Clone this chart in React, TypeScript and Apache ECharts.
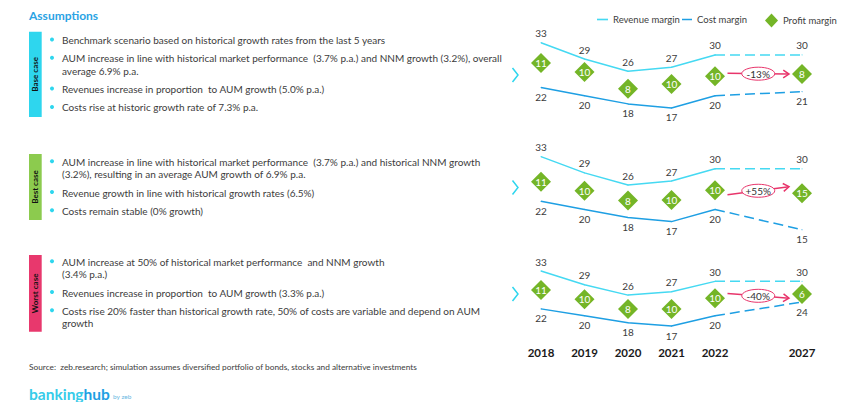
import React, { useEffect, useRef } from "react";
import * as echarts from "echarts";

const FONT = "Lato";

// ---------- data ----------
const xCategories = ["2018", "2019", "2020", "2021", "2022", "", "2027"];

const baseRevenue = [33, 29, 26, 27, 30, null, 30];
const baseCost = [22, 20, 18, 17, 20, null, 21];
const baseProfit = [11, 10, 8, 10, 10, null, 8];
const baseProfitPos = [28.0, 25.8, 21.7, 22.9, 24.8, null, 25.3];

const bestRevenue = [33, 29, 26, 27, 30, null, 30];
const bestCost = [22, 20, 18, 17, 20, null, 15];
const bestProfit = [11, 10, 8, 10, 10, null, 15];
const bestProfitPos = [26.8, 24.6, 22.2, 22.3, 24.7, null, 24.0];

const worstRevenue = [33, 29, 26, 27, 30, null, 30];
const worstCost = [22, 20, 18, 17, 20, null, 24];
const worstProfit = [11, 10, 8, 10, 10, null, 6];
const worstProfitPos = [27.5, 24.8, 22.0, 22.0, 25.1, null, 26.3];

const profitChange = ["-13%", "+55%", "-40%"];
const arrowLevels = [
  [25.5, 25.3],
  [23.6, 25.6],
  [26.5, 25.1],
];

const scenarioNames = ["Base case", "Best case", "Worst case"];

const baseAssumptions = [
  ["Benchmark scenario based on historical growth rates from the last 5 years"],
  [
    "AUM increase in line with historical market performance  (3.7% p.a.) and NNM growth (3.2%), overall",
    "average 6.9% p.a.",
  ],
  ["Revenues increase in proportion  to AUM growth (5.0% p.a.)"],
  ["Costs rise at historic growth rate of 7.3% p.a."],
];
const bestAssumptions = [
  [
    "AUM increase in line with historical market performance  (3.7% p.a.) and historical NNM growth",
    "(3.2%), resulting in an average AUM growth of 6.9% p.a.",
  ],
  ["Revenue growth in line with historical growth rates (6.5%)"],
  ["Costs remain stable (0% growth)"],
];
const worstAssumptions = [
  [
    "AUM increase at 50% of historical market performance  and NNM growth",
    "(3.4% p.a.)",
  ],
  ["Revenues increase in proportion  to AUM growth (3.3% p.a.)"],
  [
    "Costs rise 20% faster than historical growth rate, 50% of costs are variable and depend on AUM",
    "growth",
  ],
];

const sourceText =
  "Source:  zeb.research; simulation assumes diversified portfolio of bonds, stocks and alternative investments";

// ---------- styles ----------
const REV = "#45D9F2";
const COST = "#1E9FE3";
const PROFIT = "#74B527";
const PINK = "#E8356B";
const TEXT = "#3c3c3c";
const TAG_COLORS = ["#2ED6EE", "#8CCB4E", "#E8386D"];

const grids = [
  { left: 541, right: 60, top: 38.6, height: 81.6 },
  { left: 541, right: 60, top: 152.6, height: 81.2 },
  { left: 541, right: 60, top: 267.6, height: 68.8 },
];
const tagBoxes = [
  { y: 31.7, h: 85.3 },
  { y: 154, h: 66 },
  { y: 255, h: 76.7 },
];
const textStartY = [40, 161.7, 261.7];
const chevronY = [75, 187.5, 294];

function buildScenarioSeries(
  k: number,
  rev: (number | null)[],
  cost: (number | null)[],
  profit: (number | null)[],
  pos: (number | null)[]
) {
  const solid = (arr: (number | null)[]) => arr.map((v, i) => (i <= 4 ? v : null));
  const dashed = (arr: (number | null)[]) =>
    arr.map((v, i) => (i < 4 || v == null ? null : i === 6 ? { value: v, label: { show: true } } : v));
  const common = {
    type: "line",
    xAxisIndex: k,
    yAxisIndex: k,
    symbol: "circle",
    symbolSize: 1,
    showSymbol: true,
    connectNulls: true,
    z: 2,
  };
  const labelBase = { fontSize: 10, color: TEXT, fontFamily: FONT, distance: 4 };
  return [
    {
      ...common,
      name: "Revenue margin",
      data: solid(rev),
      itemStyle: { color: REV },
      lineStyle: { color: REV, width: 1.5 },
      label: { show: true, position: "top", ...labelBase },
    },
    {
      ...common,
      name: "Revenue margin",
      data: dashed(rev),
      itemStyle: { color: REV },
      lineStyle: { color: REV, width: 1.5, type: [10, 5] },
      label: { show: false, position: "top", ...labelBase },
    },
    {
      ...common,
      name: "Cost margin",
      data: solid(cost),
      itemStyle: { color: COST },
      lineStyle: { color: COST, width: 1.5 },
      label: { show: true, position: "bottom", ...labelBase },
    },
    {
      ...common,
      name: "Cost margin",
      data: dashed(cost),
      itemStyle: { color: COST },
      lineStyle: { color: COST, width: 1.5, type: [10, 5] },
      label: { show: false, position: "bottom", ...labelBase },
    },
    {
      type: "scatter",
      name: "Profit margin",
      xAxisIndex: k,
      yAxisIndex: k,
      symbol: "diamond",
      symbolSize: 20,
      z: 4,
      itemStyle: { color: PROFIT, opacity: 1 },
      data: pos
        .map((v, i) => (v == null ? null : [i, v, profit[i]]))
        .filter((d) => d != null),
      label: {
        show: true,
        position: "inside",
        color: "#ffffff",
        fontSize: 10,
        fontFamily: FONT,
        formatter: (p: any) => String(p.value[2]),
      },
    },
    {
      type: "custom",
      name: "change",
      xAxisIndex: k,
      yAxisIndex: k,
      z: 5,
      data: [[4, arrowLevels[k][0], 6, arrowLevels[k][1]]],
      renderItem: (params: any, api: any) => {
        const p0 = api.coord([api.value(0), api.value(1)]);
        const p1 = api.coord([api.value(2), api.value(3)]);
        const sx = p0[0] + 12.5;
        const sy = p0[1];
        const ex = p1[0] - 13;
        const ey = p1[1];
        const mx = (sx + ex) / 2;
        const my = (sy + ey) / 2;
        const ang = Math.atan2(ey - sy, ex - sx);
        const h = 7;
        const a1 = [ex - h * Math.cos(ang - 0.6), ey - h * Math.sin(ang - 0.6)];
        const a2 = [ex - h * Math.cos(ang + 0.6), ey - h * Math.sin(ang + 0.6)];
        return {
          type: "group",
          children: [
            { type: "line", shape: { x1: sx, y1: sy, x2: ex, y2: ey }, style: { stroke: PINK, lineWidth: 1.5 } },
            {
              type: "polyline",
              shape: { points: [a1, [ex, ey], a2] },
              style: { stroke: PINK, lineWidth: 1.5, fill: null },
            },
            {
              type: "ellipse",
              shape: { cx: mx, cy: my, rx: 16.5, ry: 6.5 },
              style: { fill: "#fff", stroke: PINK, lineWidth: 1 },
            },
            {
              type: "text",
              x: mx,
              y: my,
              style: {
                text: profitChange[k],
                align: "center",
                verticalAlign: "middle",
                fontSize: 10,
                fill: "#333",
                fontFamily: FONT,
              },
            },
          ],
        };
      },
    },
  ];
}

function buildLeftPanel() {
  const els: any[] = [];
  els.push({
    type: "text",
    x: 29,
    y: 15,
    style: {
      text: "Assumptions",
      fontSize: 12,
      fontWeight: "bold",
      fill: "#2AA3E4",
      fontFamily: FONT,
      verticalAlign: "middle",
    },
  });
  const lists = [baseAssumptions, bestAssumptions, worstAssumptions];
  lists.forEach((list, k) => {
    const box = tagBoxes[k];
    els.push({
      type: "rect",
      shape: { x: 29, y: box.y, width: 12.7, height: box.h },
      style: { fill: TAG_COLORS[k] },
    });
    els.push({
      type: "text",
      x: 35.4,
      y: box.y + box.h / 2,
      rotation: Math.PI / 2,
      style: {
        text: scenarioNames[k],
        fontSize: 8,
        fontWeight: "bold",
        fill: "#111",
        fontFamily: FONT,
        align: "center",
        verticalAlign: "middle",
      },
    });
    let y = textStartY[k];
    list.forEach((lines, bi) => {
      if (bi > 0) y += 18.3;
      els.push({
        type: "circle",
        shape: { cx: 52, cy: y - 0.5, r: 2 },
        style: { fill: "#2ED6EE" },
      });
      lines.forEach((line, li) => {
        if (li > 0) y += 12.5;
        els.push({
          type: "text",
          x: 62,
          y,
          style: { text: line, fontSize: 10, fill: TEXT, fontFamily: FONT, verticalAlign: "middle" },
        });
      });
    });
  });
  els.push({
    type: "text",
    x: 29,
    y: 367.3,
    style: { text: sourceText, fontSize: 8.3, fill: TEXT, fontFamily: FONT, verticalAlign: "middle" },
  });
  els.push({
    type: "text",
    x: 29,
    y: 385.5,
    style: {
      text: "{a|banking}{b|hub}",
      verticalAlign: "top",
      rich: {
        a: { fontSize: 15.5, fontWeight: "bold", fill: "#36CBE9", fontFamily: FONT },
        b: { fontSize: 15.5, fontWeight: "bold", fill: "#1E9FE3", fontFamily: FONT },
      },
    },
  });
  els.push({
    type: "text",
    x: 113,
    y: 392.5,
    style: { text: "by zeb", fontSize: 6.5, fill: "#6AB8E2", fontFamily: FONT, verticalAlign: "top" },
  });
  chevronY.forEach((cy) => {
    els.push({
      type: "polyline",
      shape: { points: [[512.5, cy - 7], [518, cy], [512.5, cy + 7]] },
      style: { stroke: "#2ED6EE", lineWidth: 1.5, fill: null },
    });
  });
  return els;
}

export default function App() {
  const ref = useRef<HTMLDivElement>(null);
  useEffect(() => {
    if (!ref.current) return;
    const chart = echarts.init(ref.current, null, { renderer: "svg" });
    const scen = [
      [baseRevenue, baseCost, baseProfit, baseProfitPos],
      [bestRevenue, bestCost, bestProfit, bestProfitPos],
      [worstRevenue, worstCost, worstProfit, worstProfitPos],
    ];
    const series: any[] = [];
    scen.forEach((s, k) => series.push(...buildScenarioSeries(k, s[0], s[1], s[2], s[3])));
    const legendText = { fontSize: 9.5, color: "#404040", fontFamily: FONT };
    const option: any = {
      animation: false,
      backgroundColor: "#fff",
      textStyle: { fontFamily: FONT },
      grid: grids,
      xAxis: grids.map((_, k) => ({
        type: "category",
        gridIndex: k,
        data: xCategories,
        boundaryGap: false,
        axisLine: { show: false },
        axisTick: { show: false },
        splitLine: { show: false },
        axisLabel: {
          show: k === 2,
          interval: 0,
          margin: 10,
          fontSize: 11.5,
          fontWeight: "bold",
          color: "#1a1a1a",
          fontFamily: FONT,
        },
      })),
      yAxis: grids.map((_, k) => ({
        type: "value",
        gridIndex: k,
        min: 14,
        max: 34,
        show: false,
      })),
      legend: [
        {
          left: 592,
          top: 9.5,
          itemWidth: 11,
          itemHeight: 2,
          data: [{ name: "Revenue margin", icon: "path://M0,0h20v3h-20z" }],
          textStyle: legendText,
          selectedMode: false,
        },
        {
          left: 677,
          top: 9.5,
          itemWidth: 10,
          itemHeight: 2,
          data: [{ name: "Cost margin", icon: "path://M0,0h20v3h-20z" }],
          textStyle: legendText,
          selectedMode: false,
        },
        {
          left: 760,
          top: 8.5,
          itemWidth: 13,
          itemHeight: 14,
          itemGap: 0,
          data: [{ name: "Profit margin", icon: "diamond" }],
          textStyle: legendText,
          selectedMode: false,
        },
      ],
      graphic: buildLeftPanel(),
      series,
    };
    chart.setOption(option);
    return () => chart.dispose();
  }, []);
  return (
    <div
      ref={ref}
      style={{ position: "fixed", left: 0, top: 0, width: 862, height: 402, background: "#fff" }}
    />
  );
}
